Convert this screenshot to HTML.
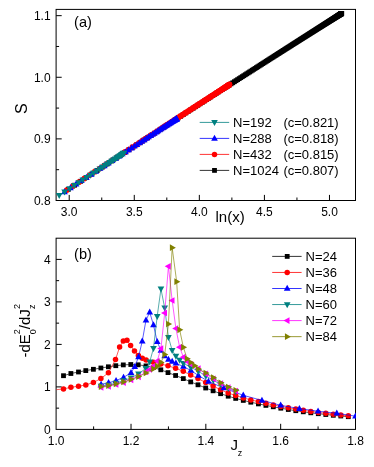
<!DOCTYPE html>
<html><head><meta charset="utf-8"><title>chart</title>
<style>html,body{margin:0;padding:0;background:#fff;}body{width:374px;height:467px;overflow:hidden;font-family:"Liberation Sans",sans-serif;}</style>
</head><body>
<svg width="374" height="467" viewBox="0 0 374 467" style="display:block">
<rect width="374" height="467" fill="#ffffff"/>
<rect x="56.1" y="9.4" width="299.4" height="191.1" fill="none" stroke="#000" stroke-width="1"/>
<rect x="56.1" y="238.2" width="299.4" height="191.2" fill="none" stroke="#000" stroke-width="1"/>
<line x1="69.21" y1="200.5" x2="69.21" y2="194.9" stroke="#000" stroke-width="1"/>
<line x1="134.28" y1="200.5" x2="134.28" y2="194.9" stroke="#000" stroke-width="1"/>
<line x1="199.34" y1="200.5" x2="199.34" y2="194.9" stroke="#000" stroke-width="1"/>
<line x1="264.41" y1="200.5" x2="264.41" y2="194.9" stroke="#000" stroke-width="1"/>
<line x1="329.47" y1="200.5" x2="329.47" y2="194.9" stroke="#000" stroke-width="1"/>
<line x1="101.75" y1="200.5" x2="101.75" y2="197.5" stroke="#000" stroke-width="1"/>
<line x1="166.81" y1="200.5" x2="166.81" y2="197.5" stroke="#000" stroke-width="1"/>
<line x1="231.88" y1="200.5" x2="231.88" y2="197.5" stroke="#000" stroke-width="1"/>
<line x1="296.94" y1="200.5" x2="296.94" y2="197.5" stroke="#000" stroke-width="1"/>
<line x1="56.1" y1="138.89" x2="61.7" y2="138.89" stroke="#000" stroke-width="1"/>
<line x1="56.1" y1="77.28" x2="61.7" y2="77.28" stroke="#000" stroke-width="1"/>
<line x1="56.1" y1="15.67" x2="61.7" y2="15.67" stroke="#000" stroke-width="1"/>
<line x1="56.1" y1="169.70" x2="59.1" y2="169.70" stroke="#000" stroke-width="1"/>
<line x1="56.1" y1="108.09" x2="59.1" y2="108.09" stroke="#000" stroke-width="1"/>
<line x1="56.1" y1="46.47" x2="59.1" y2="46.47" stroke="#000" stroke-width="1"/>
<line x1="131.02" y1="429.4" x2="131.02" y2="423.79999999999995" stroke="#000" stroke-width="1"/>
<line x1="205.84" y1="429.4" x2="205.84" y2="423.79999999999995" stroke="#000" stroke-width="1"/>
<line x1="280.66" y1="429.4" x2="280.66" y2="423.79999999999995" stroke="#000" stroke-width="1"/>
<line x1="93.61" y1="429.4" x2="93.61" y2="426.4" stroke="#000" stroke-width="1"/>
<line x1="168.43" y1="429.4" x2="168.43" y2="426.4" stroke="#000" stroke-width="1"/>
<line x1="243.25" y1="429.4" x2="243.25" y2="426.4" stroke="#000" stroke-width="1"/>
<line x1="318.07" y1="429.4" x2="318.07" y2="426.4" stroke="#000" stroke-width="1"/>
<line x1="56.1" y1="386.90" x2="61.7" y2="386.90" stroke="#000" stroke-width="1"/>
<line x1="56.1" y1="344.40" x2="61.7" y2="344.40" stroke="#000" stroke-width="1"/>
<line x1="56.1" y1="301.90" x2="61.7" y2="301.90" stroke="#000" stroke-width="1"/>
<line x1="56.1" y1="259.40" x2="61.7" y2="259.40" stroke="#000" stroke-width="1"/>
<line x1="56.1" y1="408.15" x2="59.1" y2="408.15" stroke="#000" stroke-width="1"/>
<line x1="56.1" y1="365.65" x2="59.1" y2="365.65" stroke="#000" stroke-width="1"/>
<line x1="56.1" y1="323.15" x2="59.1" y2="323.15" stroke="#000" stroke-width="1"/>
<line x1="56.1" y1="280.65" x2="59.1" y2="280.65" stroke="#000" stroke-width="1"/>
<path d="M68.33 189.33 L74.65 185.20 L80.66 181.26 L86.41 177.50 L91.91 173.91 L97.18 170.47 L102.25 167.17 L107.11 163.99 L111.80 160.94 L116.32 157.99 L120.69 155.15 L124.90 152.41 L128.98 149.76 L132.93 147.19 L136.76 144.70 L140.48 142.29 L144.09 139.95 L147.59 137.68 L151.00 135.47 L154.32 133.32 L157.55 131.22 L160.69 129.19 L163.76 127.20 L166.75 125.27 L169.67 123.38 L172.53 121.53 L175.31 119.73 L178.03 117.98 L180.70 116.26 L183.30 114.58 L185.85 112.93 L188.34 111.32 L190.78 109.75 L193.18 108.21 L195.52 106.70 L197.82 105.21 L200.07 103.76 L202.28 102.34 L204.45 100.94 L206.58 99.57 L208.67 98.23 L210.72 96.91 L212.73 95.62 L214.71 94.34 L216.66 93.09 L218.57 91.87 L220.45 90.66 L222.29 89.47 L224.11 88.31 L225.90 87.16 L227.65 86.03 L229.38 84.92 L231.08 83.83 L232.76 82.76 L234.41 81.70 L236.03 80.66 L237.63 79.63 L239.20 78.62 L240.76 77.63 L242.28 76.65 L243.79 75.69 L245.27 74.74 L246.73 73.80 L248.17 72.88 L249.59 71.97 L250.99 71.08 L252.37 70.20 L253.73 69.32 L255.07 68.47 L256.40 67.62 L257.70 66.79 L258.99 65.96 L260.26 65.15 L261.51 64.35 L262.75 63.56 L263.96 62.78 L265.17 62.02 L266.35 61.26 L267.53 60.51 L268.68 59.77 L269.82 59.04 L270.95 58.33 L272.06 57.62 L273.16 56.92 L274.24 56.22 L275.31 55.54 L276.37 54.87 L277.41 54.20 L278.44 53.55 L279.46 52.90 L280.46 52.26 L281.45 51.63 L282.43 51.00 L283.40 50.39 L284.35 49.78 L285.30 49.18 L286.23 48.59 L287.15 48.00 L288.06 47.42 L288.95 46.85 L289.84 46.29 L290.72 45.73 L291.58 45.18 L292.44 44.63 L293.28 44.10 L294.11 43.57 L294.94 43.04 L295.75 42.53 L296.55 42.02 L297.35 41.51 L298.13 41.01 L298.90 40.52 L299.67 40.03 L300.43 39.55 L301.17 39.08 L301.91 38.61 L302.64 38.15 L303.36 37.69 L304.07 37.24 L304.77 36.79 L305.46 36.35 L306.15 35.92 L306.82 35.49 L307.49 35.07 L308.15 34.65 L308.80 34.23 L309.44 33.83 L310.08 33.42 L310.71 33.02 L311.32 32.63 L311.94 32.24 L312.54 31.86 L313.14 31.48 L313.72 31.11 L314.30 30.74 L314.88 30.38 L315.44 30.02 L316.00 29.66 L316.55 29.31 L317.10 28.97 L317.64 28.63 L318.17 28.29 L318.69 27.96 L319.20 27.63 L319.71 27.31 L320.22 26.99 L320.71 26.68 L321.20 26.37 L321.68 26.06 L322.16 25.76 L322.63 25.46 L323.09 25.17 L323.54 24.88 L323.99 24.60 L324.44 24.32 L324.87 24.04 L325.30 23.77 L325.72 23.50 L326.14 23.23 L326.55 22.97 L326.96 22.72 L327.36 22.47 L327.75 22.22 L328.14 21.97 L328.52 21.73 L328.89 21.49 L329.26 21.26 L329.62 21.03 L329.98 20.80 L330.33 20.58 L330.68 20.36 L331.02 20.15 L331.35 19.94 L331.68 19.73 L332.00 19.53 L332.32 19.33 L332.63 19.13 L332.93 18.94 L333.23 18.75 L333.53 18.56 L333.81 18.38 L334.10 18.20 L334.37 18.02 L334.65 17.85 L334.91 17.68 L335.17 17.52 L335.43 17.36 L335.68 17.20 L335.92 17.04 L336.16 16.89 L336.40 16.74 L336.63 16.60 L336.85 16.46 L337.07 16.32 L337.28 16.18 L337.49 16.05 L337.69 15.92 L337.89 15.80 L338.08 15.68 L338.27 15.56 L338.45 15.44 L338.63 15.33 L338.80 15.22 L338.97 15.12 L339.13 15.02 L339.28 14.92 L339.44 14.82 L339.58 14.73 L339.72 14.64 L339.86 14.55 L339.99 14.47 L340.12 14.39 L340.24 14.31 L340.35 14.24 L340.46 14.17 L340.57 14.10 L340.67 14.04 L340.77 13.98 L340.86 13.92 L340.94 13.87 L341.02 13.82 L341.10 13.77 L341.17 13.72 L341.24 13.68 L341.30 13.64 L341.36 13.61 L341.41 13.57 L341.45 13.55 L341.50 13.52 L341.53 13.50 L341.56 13.48 L341.59 13.46 L341.61 13.44 L341.63 13.43 L341.64 13.43 L341.65 13.42 L341.65 13.42" fill="none" stroke="#000000" stroke-width="0.65"/>
<rect x="65.93" y="186.93" width="4.80" height="4.80" fill="#000000"/>
<rect x="72.25" y="182.80" width="4.80" height="4.80" fill="#000000"/>
<rect x="78.26" y="178.86" width="4.80" height="4.80" fill="#000000"/>
<rect x="84.01" y="175.10" width="4.80" height="4.80" fill="#000000"/>
<rect x="89.51" y="171.51" width="4.80" height="4.80" fill="#000000"/>
<rect x="94.78" y="168.07" width="4.80" height="4.80" fill="#000000"/>
<rect x="99.85" y="164.77" width="4.80" height="4.80" fill="#000000"/>
<rect x="104.71" y="161.59" width="4.80" height="4.80" fill="#000000"/>
<rect x="109.40" y="158.54" width="4.80" height="4.80" fill="#000000"/>
<rect x="113.92" y="155.59" width="4.80" height="4.80" fill="#000000"/>
<rect x="118.29" y="152.75" width="4.80" height="4.80" fill="#000000"/>
<rect x="122.50" y="150.01" width="4.80" height="4.80" fill="#000000"/>
<rect x="126.58" y="147.36" width="4.80" height="4.80" fill="#000000"/>
<rect x="130.53" y="144.79" width="4.80" height="4.80" fill="#000000"/>
<rect x="134.36" y="142.30" width="4.80" height="4.80" fill="#000000"/>
<rect x="138.08" y="139.89" width="4.80" height="4.80" fill="#000000"/>
<rect x="141.69" y="137.55" width="4.80" height="4.80" fill="#000000"/>
<rect x="145.19" y="135.28" width="4.80" height="4.80" fill="#000000"/>
<rect x="148.60" y="133.07" width="4.80" height="4.80" fill="#000000"/>
<rect x="151.92" y="130.92" width="4.80" height="4.80" fill="#000000"/>
<rect x="155.15" y="128.82" width="4.80" height="4.80" fill="#000000"/>
<rect x="158.29" y="126.79" width="4.80" height="4.80" fill="#000000"/>
<rect x="161.36" y="124.80" width="4.80" height="4.80" fill="#000000"/>
<rect x="164.35" y="122.87" width="4.80" height="4.80" fill="#000000"/>
<rect x="167.27" y="120.98" width="4.80" height="4.80" fill="#000000"/>
<rect x="170.13" y="119.13" width="4.80" height="4.80" fill="#000000"/>
<rect x="172.91" y="117.33" width="4.80" height="4.80" fill="#000000"/>
<rect x="175.63" y="115.58" width="4.80" height="4.80" fill="#000000"/>
<rect x="178.30" y="113.86" width="4.80" height="4.80" fill="#000000"/>
<rect x="180.90" y="112.18" width="4.80" height="4.80" fill="#000000"/>
<rect x="183.45" y="110.53" width="4.80" height="4.80" fill="#000000"/>
<rect x="185.94" y="108.92" width="4.80" height="4.80" fill="#000000"/>
<rect x="188.38" y="107.35" width="4.80" height="4.80" fill="#000000"/>
<rect x="190.78" y="105.81" width="4.80" height="4.80" fill="#000000"/>
<rect x="193.12" y="104.30" width="4.80" height="4.80" fill="#000000"/>
<rect x="195.42" y="102.81" width="4.80" height="4.80" fill="#000000"/>
<rect x="197.67" y="101.36" width="4.80" height="4.80" fill="#000000"/>
<rect x="199.88" y="99.94" width="4.80" height="4.80" fill="#000000"/>
<rect x="202.05" y="98.54" width="4.80" height="4.80" fill="#000000"/>
<rect x="204.18" y="97.17" width="4.80" height="4.80" fill="#000000"/>
<rect x="206.27" y="95.83" width="4.80" height="4.80" fill="#000000"/>
<rect x="208.32" y="94.51" width="4.80" height="4.80" fill="#000000"/>
<rect x="210.33" y="93.22" width="4.80" height="4.80" fill="#000000"/>
<rect x="212.31" y="91.94" width="4.80" height="4.80" fill="#000000"/>
<rect x="214.26" y="90.69" width="4.80" height="4.80" fill="#000000"/>
<rect x="216.17" y="89.47" width="4.80" height="4.80" fill="#000000"/>
<rect x="218.05" y="88.26" width="4.80" height="4.80" fill="#000000"/>
<rect x="219.89" y="87.07" width="4.80" height="4.80" fill="#000000"/>
<rect x="221.71" y="85.91" width="4.80" height="4.80" fill="#000000"/>
<rect x="223.50" y="84.76" width="4.80" height="4.80" fill="#000000"/>
<rect x="225.25" y="83.63" width="4.80" height="4.80" fill="#000000"/>
<rect x="226.98" y="82.52" width="4.80" height="4.80" fill="#000000"/>
<rect x="228.68" y="81.43" width="4.80" height="4.80" fill="#000000"/>
<rect x="230.36" y="80.36" width="4.80" height="4.80" fill="#000000"/>
<rect x="232.01" y="79.30" width="4.80" height="4.80" fill="#000000"/>
<rect x="233.63" y="78.26" width="4.80" height="4.80" fill="#000000"/>
<rect x="235.23" y="77.23" width="4.80" height="4.80" fill="#000000"/>
<rect x="236.80" y="76.22" width="4.80" height="4.80" fill="#000000"/>
<rect x="238.36" y="75.23" width="4.80" height="4.80" fill="#000000"/>
<rect x="239.88" y="74.25" width="4.80" height="4.80" fill="#000000"/>
<rect x="241.39" y="73.29" width="4.80" height="4.80" fill="#000000"/>
<rect x="242.87" y="72.34" width="4.80" height="4.80" fill="#000000"/>
<rect x="244.33" y="71.40" width="4.80" height="4.80" fill="#000000"/>
<rect x="245.77" y="70.48" width="4.80" height="4.80" fill="#000000"/>
<rect x="247.19" y="69.57" width="4.80" height="4.80" fill="#000000"/>
<rect x="248.59" y="68.68" width="4.80" height="4.80" fill="#000000"/>
<rect x="249.97" y="67.80" width="4.80" height="4.80" fill="#000000"/>
<rect x="251.33" y="66.92" width="4.80" height="4.80" fill="#000000"/>
<rect x="252.67" y="66.07" width="4.80" height="4.80" fill="#000000"/>
<rect x="254.00" y="65.22" width="4.80" height="4.80" fill="#000000"/>
<rect x="255.30" y="64.39" width="4.80" height="4.80" fill="#000000"/>
<rect x="256.59" y="63.56" width="4.80" height="4.80" fill="#000000"/>
<rect x="257.86" y="62.75" width="4.80" height="4.80" fill="#000000"/>
<rect x="259.11" y="61.95" width="4.80" height="4.80" fill="#000000"/>
<rect x="260.35" y="61.16" width="4.80" height="4.80" fill="#000000"/>
<rect x="261.56" y="60.38" width="4.80" height="4.80" fill="#000000"/>
<rect x="262.77" y="59.62" width="4.80" height="4.80" fill="#000000"/>
<rect x="263.95" y="58.86" width="4.80" height="4.80" fill="#000000"/>
<rect x="265.13" y="58.11" width="4.80" height="4.80" fill="#000000"/>
<rect x="266.28" y="57.37" width="4.80" height="4.80" fill="#000000"/>
<rect x="267.42" y="56.64" width="4.80" height="4.80" fill="#000000"/>
<rect x="268.55" y="55.93" width="4.80" height="4.80" fill="#000000"/>
<rect x="269.66" y="55.22" width="4.80" height="4.80" fill="#000000"/>
<rect x="270.76" y="54.52" width="4.80" height="4.80" fill="#000000"/>
<rect x="271.84" y="53.82" width="4.80" height="4.80" fill="#000000"/>
<rect x="272.91" y="53.14" width="4.80" height="4.80" fill="#000000"/>
<rect x="273.97" y="52.47" width="4.80" height="4.80" fill="#000000"/>
<rect x="275.01" y="51.80" width="4.80" height="4.80" fill="#000000"/>
<rect x="276.04" y="51.15" width="4.80" height="4.80" fill="#000000"/>
<rect x="277.06" y="50.50" width="4.80" height="4.80" fill="#000000"/>
<rect x="278.06" y="49.86" width="4.80" height="4.80" fill="#000000"/>
<rect x="279.05" y="49.23" width="4.80" height="4.80" fill="#000000"/>
<rect x="280.03" y="48.60" width="4.80" height="4.80" fill="#000000"/>
<rect x="281.00" y="47.99" width="4.80" height="4.80" fill="#000000"/>
<rect x="281.95" y="47.38" width="4.80" height="4.80" fill="#000000"/>
<rect x="282.90" y="46.78" width="4.80" height="4.80" fill="#000000"/>
<rect x="283.83" y="46.19" width="4.80" height="4.80" fill="#000000"/>
<rect x="284.75" y="45.60" width="4.80" height="4.80" fill="#000000"/>
<rect x="285.66" y="45.02" width="4.80" height="4.80" fill="#000000"/>
<rect x="286.55" y="44.45" width="4.80" height="4.80" fill="#000000"/>
<rect x="287.44" y="43.89" width="4.80" height="4.80" fill="#000000"/>
<rect x="288.32" y="43.33" width="4.80" height="4.80" fill="#000000"/>
<rect x="289.18" y="42.78" width="4.80" height="4.80" fill="#000000"/>
<rect x="290.04" y="42.23" width="4.80" height="4.80" fill="#000000"/>
<rect x="290.88" y="41.70" width="4.80" height="4.80" fill="#000000"/>
<rect x="291.71" y="41.17" width="4.80" height="4.80" fill="#000000"/>
<rect x="292.54" y="40.64" width="4.80" height="4.80" fill="#000000"/>
<rect x="293.35" y="40.13" width="4.80" height="4.80" fill="#000000"/>
<rect x="294.15" y="39.62" width="4.80" height="4.80" fill="#000000"/>
<rect x="294.95" y="39.11" width="4.80" height="4.80" fill="#000000"/>
<rect x="295.73" y="38.61" width="4.80" height="4.80" fill="#000000"/>
<rect x="296.50" y="38.12" width="4.80" height="4.80" fill="#000000"/>
<rect x="297.27" y="37.63" width="4.80" height="4.80" fill="#000000"/>
<rect x="298.03" y="37.15" width="4.80" height="4.80" fill="#000000"/>
<rect x="298.77" y="36.68" width="4.80" height="4.80" fill="#000000"/>
<rect x="299.51" y="36.21" width="4.80" height="4.80" fill="#000000"/>
<rect x="300.24" y="35.75" width="4.80" height="4.80" fill="#000000"/>
<rect x="300.96" y="35.29" width="4.80" height="4.80" fill="#000000"/>
<rect x="301.67" y="34.84" width="4.80" height="4.80" fill="#000000"/>
<rect x="302.37" y="34.39" width="4.80" height="4.80" fill="#000000"/>
<rect x="303.06" y="33.95" width="4.80" height="4.80" fill="#000000"/>
<rect x="303.75" y="33.52" width="4.80" height="4.80" fill="#000000"/>
<rect x="304.42" y="33.09" width="4.80" height="4.80" fill="#000000"/>
<rect x="305.09" y="32.67" width="4.80" height="4.80" fill="#000000"/>
<rect x="305.75" y="32.25" width="4.80" height="4.80" fill="#000000"/>
<rect x="306.40" y="31.83" width="4.80" height="4.80" fill="#000000"/>
<rect x="307.04" y="31.43" width="4.80" height="4.80" fill="#000000"/>
<rect x="307.68" y="31.02" width="4.80" height="4.80" fill="#000000"/>
<rect x="308.31" y="30.62" width="4.80" height="4.80" fill="#000000"/>
<rect x="308.92" y="30.23" width="4.80" height="4.80" fill="#000000"/>
<rect x="309.54" y="29.84" width="4.80" height="4.80" fill="#000000"/>
<rect x="310.14" y="29.46" width="4.80" height="4.80" fill="#000000"/>
<rect x="310.74" y="29.08" width="4.80" height="4.80" fill="#000000"/>
<rect x="311.32" y="28.71" width="4.80" height="4.80" fill="#000000"/>
<rect x="311.90" y="28.34" width="4.80" height="4.80" fill="#000000"/>
<rect x="312.48" y="27.98" width="4.80" height="4.80" fill="#000000"/>
<rect x="313.04" y="27.62" width="4.80" height="4.80" fill="#000000"/>
<rect x="313.60" y="27.26" width="4.80" height="4.80" fill="#000000"/>
<rect x="314.15" y="26.91" width="4.80" height="4.80" fill="#000000"/>
<rect x="314.70" y="26.57" width="4.80" height="4.80" fill="#000000"/>
<rect x="315.24" y="26.23" width="4.80" height="4.80" fill="#000000"/>
<rect x="315.77" y="25.89" width="4.80" height="4.80" fill="#000000"/>
<rect x="316.29" y="25.56" width="4.80" height="4.80" fill="#000000"/>
<rect x="316.80" y="25.23" width="4.80" height="4.80" fill="#000000"/>
<rect x="317.31" y="24.91" width="4.80" height="4.80" fill="#000000"/>
<rect x="317.82" y="24.59" width="4.80" height="4.80" fill="#000000"/>
<rect x="318.31" y="24.28" width="4.80" height="4.80" fill="#000000"/>
<rect x="318.80" y="23.97" width="4.80" height="4.80" fill="#000000"/>
<rect x="319.28" y="23.66" width="4.80" height="4.80" fill="#000000"/>
<rect x="319.76" y="23.36" width="4.80" height="4.80" fill="#000000"/>
<rect x="320.23" y="23.06" width="4.80" height="4.80" fill="#000000"/>
<rect x="320.69" y="22.77" width="4.80" height="4.80" fill="#000000"/>
<rect x="321.14" y="22.48" width="4.80" height="4.80" fill="#000000"/>
<rect x="321.59" y="22.20" width="4.80" height="4.80" fill="#000000"/>
<rect x="322.04" y="21.92" width="4.80" height="4.80" fill="#000000"/>
<rect x="322.47" y="21.64" width="4.80" height="4.80" fill="#000000"/>
<rect x="322.90" y="21.37" width="4.80" height="4.80" fill="#000000"/>
<rect x="323.32" y="21.10" width="4.80" height="4.80" fill="#000000"/>
<rect x="323.74" y="20.83" width="4.80" height="4.80" fill="#000000"/>
<rect x="324.15" y="20.57" width="4.80" height="4.80" fill="#000000"/>
<rect x="324.56" y="20.32" width="4.80" height="4.80" fill="#000000"/>
<rect x="324.96" y="20.07" width="4.80" height="4.80" fill="#000000"/>
<rect x="325.35" y="19.82" width="4.80" height="4.80" fill="#000000"/>
<rect x="325.74" y="19.57" width="4.80" height="4.80" fill="#000000"/>
<rect x="326.12" y="19.33" width="4.80" height="4.80" fill="#000000"/>
<rect x="326.49" y="19.09" width="4.80" height="4.80" fill="#000000"/>
<rect x="326.86" y="18.86" width="4.80" height="4.80" fill="#000000"/>
<rect x="327.22" y="18.63" width="4.80" height="4.80" fill="#000000"/>
<rect x="327.58" y="18.40" width="4.80" height="4.80" fill="#000000"/>
<rect x="327.93" y="18.18" width="4.80" height="4.80" fill="#000000"/>
<rect x="328.28" y="17.96" width="4.80" height="4.80" fill="#000000"/>
<rect x="328.62" y="17.75" width="4.80" height="4.80" fill="#000000"/>
<rect x="328.95" y="17.54" width="4.80" height="4.80" fill="#000000"/>
<rect x="329.28" y="17.33" width="4.80" height="4.80" fill="#000000"/>
<rect x="329.60" y="17.13" width="4.80" height="4.80" fill="#000000"/>
<rect x="329.92" y="16.93" width="4.80" height="4.80" fill="#000000"/>
<rect x="330.23" y="16.73" width="4.80" height="4.80" fill="#000000"/>
<rect x="330.53" y="16.54" width="4.80" height="4.80" fill="#000000"/>
<rect x="330.83" y="16.35" width="4.80" height="4.80" fill="#000000"/>
<rect x="331.13" y="16.16" width="4.80" height="4.80" fill="#000000"/>
<rect x="331.41" y="15.98" width="4.80" height="4.80" fill="#000000"/>
<rect x="331.70" y="15.80" width="4.80" height="4.80" fill="#000000"/>
<rect x="331.97" y="15.62" width="4.80" height="4.80" fill="#000000"/>
<rect x="332.25" y="15.45" width="4.80" height="4.80" fill="#000000"/>
<rect x="332.51" y="15.28" width="4.80" height="4.80" fill="#000000"/>
<rect x="332.77" y="15.12" width="4.80" height="4.80" fill="#000000"/>
<rect x="333.03" y="14.96" width="4.80" height="4.80" fill="#000000"/>
<rect x="333.28" y="14.80" width="4.80" height="4.80" fill="#000000"/>
<rect x="333.52" y="14.64" width="4.80" height="4.80" fill="#000000"/>
<rect x="333.76" y="14.49" width="4.80" height="4.80" fill="#000000"/>
<rect x="334.00" y="14.34" width="4.80" height="4.80" fill="#000000"/>
<rect x="334.23" y="14.20" width="4.80" height="4.80" fill="#000000"/>
<rect x="334.45" y="14.06" width="4.80" height="4.80" fill="#000000"/>
<rect x="334.67" y="13.92" width="4.80" height="4.80" fill="#000000"/>
<rect x="334.88" y="13.78" width="4.80" height="4.80" fill="#000000"/>
<rect x="335.09" y="13.65" width="4.80" height="4.80" fill="#000000"/>
<rect x="335.29" y="13.52" width="4.80" height="4.80" fill="#000000"/>
<rect x="335.49" y="13.40" width="4.80" height="4.80" fill="#000000"/>
<rect x="335.68" y="13.28" width="4.80" height="4.80" fill="#000000"/>
<rect x="335.87" y="13.16" width="4.80" height="4.80" fill="#000000"/>
<rect x="336.05" y="13.04" width="4.80" height="4.80" fill="#000000"/>
<rect x="336.23" y="12.93" width="4.80" height="4.80" fill="#000000"/>
<rect x="336.40" y="12.82" width="4.80" height="4.80" fill="#000000"/>
<rect x="336.57" y="12.72" width="4.80" height="4.80" fill="#000000"/>
<rect x="336.73" y="12.62" width="4.80" height="4.80" fill="#000000"/>
<rect x="336.88" y="12.52" width="4.80" height="4.80" fill="#000000"/>
<rect x="337.04" y="12.42" width="4.80" height="4.80" fill="#000000"/>
<rect x="337.18" y="12.33" width="4.80" height="4.80" fill="#000000"/>
<rect x="337.32" y="12.24" width="4.80" height="4.80" fill="#000000"/>
<rect x="337.46" y="12.15" width="4.80" height="4.80" fill="#000000"/>
<rect x="337.59" y="12.07" width="4.80" height="4.80" fill="#000000"/>
<rect x="337.72" y="11.99" width="4.80" height="4.80" fill="#000000"/>
<rect x="337.84" y="11.91" width="4.80" height="4.80" fill="#000000"/>
<rect x="337.95" y="11.84" width="4.80" height="4.80" fill="#000000"/>
<rect x="338.06" y="11.77" width="4.80" height="4.80" fill="#000000"/>
<rect x="338.17" y="11.70" width="4.80" height="4.80" fill="#000000"/>
<rect x="338.27" y="11.64" width="4.80" height="4.80" fill="#000000"/>
<rect x="338.37" y="11.58" width="4.80" height="4.80" fill="#000000"/>
<rect x="338.46" y="11.52" width="4.80" height="4.80" fill="#000000"/>
<rect x="338.54" y="11.47" width="4.80" height="4.80" fill="#000000"/>
<rect x="338.62" y="11.42" width="4.80" height="4.80" fill="#000000"/>
<rect x="338.70" y="11.37" width="4.80" height="4.80" fill="#000000"/>
<rect x="338.77" y="11.32" width="4.80" height="4.80" fill="#000000"/>
<rect x="338.84" y="11.28" width="4.80" height="4.80" fill="#000000"/>
<rect x="338.90" y="11.24" width="4.80" height="4.80" fill="#000000"/>
<rect x="338.96" y="11.21" width="4.80" height="4.80" fill="#000000"/>
<rect x="339.01" y="11.17" width="4.80" height="4.80" fill="#000000"/>
<rect x="339.05" y="11.15" width="4.80" height="4.80" fill="#000000"/>
<rect x="339.10" y="11.12" width="4.80" height="4.80" fill="#000000"/>
<rect x="339.13" y="11.10" width="4.80" height="4.80" fill="#000000"/>
<rect x="339.16" y="11.08" width="4.80" height="4.80" fill="#000000"/>
<rect x="339.19" y="11.06" width="4.80" height="4.80" fill="#000000"/>
<rect x="339.21" y="11.04" width="4.80" height="4.80" fill="#000000"/>
<rect x="339.23" y="11.03" width="4.80" height="4.80" fill="#000000"/>
<rect x="339.24" y="11.03" width="4.80" height="4.80" fill="#000000"/>
<rect x="339.25" y="11.02" width="4.80" height="4.80" fill="#000000"/>
<rect x="339.25" y="11.02" width="4.80" height="4.80" fill="#000000"/>
<path d="M66.82 190.03 L72.98 185.99 L78.83 182.16 L84.41 178.51 L89.73 175.04 L94.82 171.71 L99.68 168.54 L104.35 165.49 L108.83 162.58 L113.13 159.77 L117.27 157.08 L121.25 154.49 L125.09 151.99 L128.79 149.58 L132.36 147.26 L135.81 145.02 L139.15 142.86 L142.37 140.76 L145.49 138.74 L148.51 136.78 L151.43 134.89 L154.26 133.05 L157.01 131.27 L159.67 129.55 L162.25 127.88 L164.76 126.26 L167.19 124.69 L169.55 123.16 L171.83 121.68 L174.06 120.25 L176.22 118.85 L178.31 117.50 L180.35 116.18 L182.32 114.91 L184.24 113.67 L186.11 112.46 L187.92 111.29 L189.68 110.16 L191.39 109.06 L193.05 107.99 L194.66 106.95 L196.23 105.94 L197.75 104.96 L199.22 104.01 L200.65 103.09 L202.04 102.20 L203.39 101.33 L204.69 100.49 L205.95 99.68 L207.18 98.89 L208.37 98.12 L209.52 97.38 L210.63 96.67 L211.70 95.98 L212.74 95.31 L213.74 94.67 L214.71 94.04 L215.64 93.44 L216.54 92.87 L217.41 92.31 L218.24 91.77 L219.04 91.26 L219.81 90.77 L220.55 90.29 L221.25 89.84 L221.92 89.41 L222.57 89.00 L223.18 88.60 L223.76 88.23 L224.31 87.88 L224.83 87.54 L225.33 87.23 L225.79 86.93 L226.22 86.65 L226.63 86.39 L227.00 86.15 L227.35 85.92 L227.67 85.72 L227.96 85.53 L228.23 85.36 L228.46 85.21 L228.67 85.08 L228.85 84.96 L229.00 84.87 L229.12 84.79 L229.22 84.73 L229.29 84.68 L229.33 84.66 L229.34 84.65" fill="none" stroke="#ff0000" stroke-width="0.65"/>
<circle cx="66.82" cy="190.03" r="2.89" fill="#ff0000"/>
<circle cx="72.98" cy="185.99" r="2.89" fill="#ff0000"/>
<circle cx="78.83" cy="182.16" r="2.89" fill="#ff0000"/>
<circle cx="84.41" cy="178.51" r="2.89" fill="#ff0000"/>
<circle cx="89.73" cy="175.04" r="2.89" fill="#ff0000"/>
<circle cx="94.82" cy="171.71" r="2.89" fill="#ff0000"/>
<circle cx="99.68" cy="168.54" r="2.89" fill="#ff0000"/>
<circle cx="104.35" cy="165.49" r="2.89" fill="#ff0000"/>
<circle cx="108.83" cy="162.58" r="2.89" fill="#ff0000"/>
<circle cx="113.13" cy="159.77" r="2.89" fill="#ff0000"/>
<circle cx="117.27" cy="157.08" r="2.89" fill="#ff0000"/>
<circle cx="121.25" cy="154.49" r="2.89" fill="#ff0000"/>
<circle cx="125.09" cy="151.99" r="2.89" fill="#ff0000"/>
<circle cx="128.79" cy="149.58" r="2.89" fill="#ff0000"/>
<circle cx="132.36" cy="147.26" r="2.89" fill="#ff0000"/>
<circle cx="135.81" cy="145.02" r="2.89" fill="#ff0000"/>
<circle cx="139.15" cy="142.86" r="2.89" fill="#ff0000"/>
<circle cx="142.37" cy="140.76" r="2.89" fill="#ff0000"/>
<circle cx="145.49" cy="138.74" r="2.89" fill="#ff0000"/>
<circle cx="148.51" cy="136.78" r="2.89" fill="#ff0000"/>
<circle cx="151.43" cy="134.89" r="2.89" fill="#ff0000"/>
<circle cx="154.26" cy="133.05" r="2.89" fill="#ff0000"/>
<circle cx="157.01" cy="131.27" r="2.89" fill="#ff0000"/>
<circle cx="159.67" cy="129.55" r="2.89" fill="#ff0000"/>
<circle cx="162.25" cy="127.88" r="2.89" fill="#ff0000"/>
<circle cx="164.76" cy="126.26" r="2.89" fill="#ff0000"/>
<circle cx="167.19" cy="124.69" r="2.89" fill="#ff0000"/>
<circle cx="169.55" cy="123.16" r="2.89" fill="#ff0000"/>
<circle cx="171.83" cy="121.68" r="2.89" fill="#ff0000"/>
<circle cx="174.06" cy="120.25" r="2.89" fill="#ff0000"/>
<circle cx="176.22" cy="118.85" r="2.89" fill="#ff0000"/>
<circle cx="178.31" cy="117.50" r="2.89" fill="#ff0000"/>
<circle cx="180.35" cy="116.18" r="2.89" fill="#ff0000"/>
<circle cx="182.32" cy="114.91" r="2.89" fill="#ff0000"/>
<circle cx="184.24" cy="113.67" r="2.89" fill="#ff0000"/>
<circle cx="186.11" cy="112.46" r="2.89" fill="#ff0000"/>
<circle cx="187.92" cy="111.29" r="2.89" fill="#ff0000"/>
<circle cx="189.68" cy="110.16" r="2.89" fill="#ff0000"/>
<circle cx="191.39" cy="109.06" r="2.89" fill="#ff0000"/>
<circle cx="193.05" cy="107.99" r="2.89" fill="#ff0000"/>
<circle cx="194.66" cy="106.95" r="2.89" fill="#ff0000"/>
<circle cx="196.23" cy="105.94" r="2.89" fill="#ff0000"/>
<circle cx="197.75" cy="104.96" r="2.89" fill="#ff0000"/>
<circle cx="199.22" cy="104.01" r="2.89" fill="#ff0000"/>
<circle cx="200.65" cy="103.09" r="2.89" fill="#ff0000"/>
<circle cx="202.04" cy="102.20" r="2.89" fill="#ff0000"/>
<circle cx="203.39" cy="101.33" r="2.89" fill="#ff0000"/>
<circle cx="204.69" cy="100.49" r="2.89" fill="#ff0000"/>
<circle cx="205.95" cy="99.68" r="2.89" fill="#ff0000"/>
<circle cx="207.18" cy="98.89" r="2.89" fill="#ff0000"/>
<circle cx="208.37" cy="98.12" r="2.89" fill="#ff0000"/>
<circle cx="209.52" cy="97.38" r="2.89" fill="#ff0000"/>
<circle cx="210.63" cy="96.67" r="2.89" fill="#ff0000"/>
<circle cx="211.70" cy="95.98" r="2.89" fill="#ff0000"/>
<circle cx="212.74" cy="95.31" r="2.89" fill="#ff0000"/>
<circle cx="213.74" cy="94.67" r="2.89" fill="#ff0000"/>
<circle cx="214.71" cy="94.04" r="2.89" fill="#ff0000"/>
<circle cx="215.64" cy="93.44" r="2.89" fill="#ff0000"/>
<circle cx="216.54" cy="92.87" r="2.89" fill="#ff0000"/>
<circle cx="217.41" cy="92.31" r="2.89" fill="#ff0000"/>
<circle cx="218.24" cy="91.77" r="2.89" fill="#ff0000"/>
<circle cx="219.04" cy="91.26" r="2.89" fill="#ff0000"/>
<circle cx="219.81" cy="90.77" r="2.89" fill="#ff0000"/>
<circle cx="220.55" cy="90.29" r="2.89" fill="#ff0000"/>
<circle cx="221.25" cy="89.84" r="2.89" fill="#ff0000"/>
<circle cx="221.92" cy="89.41" r="2.89" fill="#ff0000"/>
<circle cx="222.57" cy="89.00" r="2.89" fill="#ff0000"/>
<circle cx="223.18" cy="88.60" r="2.89" fill="#ff0000"/>
<circle cx="223.76" cy="88.23" r="2.89" fill="#ff0000"/>
<circle cx="224.31" cy="87.88" r="2.89" fill="#ff0000"/>
<circle cx="224.83" cy="87.54" r="2.89" fill="#ff0000"/>
<circle cx="225.33" cy="87.23" r="2.89" fill="#ff0000"/>
<circle cx="225.79" cy="86.93" r="2.89" fill="#ff0000"/>
<circle cx="226.22" cy="86.65" r="2.89" fill="#ff0000"/>
<circle cx="226.63" cy="86.39" r="2.89" fill="#ff0000"/>
<circle cx="227.00" cy="86.15" r="2.89" fill="#ff0000"/>
<circle cx="227.35" cy="85.92" r="2.89" fill="#ff0000"/>
<circle cx="227.67" cy="85.72" r="2.89" fill="#ff0000"/>
<circle cx="227.96" cy="85.53" r="2.89" fill="#ff0000"/>
<circle cx="228.23" cy="85.36" r="2.89" fill="#ff0000"/>
<circle cx="228.46" cy="85.21" r="2.89" fill="#ff0000"/>
<circle cx="228.67" cy="85.08" r="2.89" fill="#ff0000"/>
<circle cx="228.85" cy="84.96" r="2.89" fill="#ff0000"/>
<circle cx="229.00" cy="84.87" r="2.89" fill="#ff0000"/>
<circle cx="229.12" cy="84.79" r="2.89" fill="#ff0000"/>
<circle cx="229.22" cy="84.73" r="2.89" fill="#ff0000"/>
<circle cx="229.29" cy="84.68" r="2.89" fill="#ff0000"/>
<circle cx="229.33" cy="84.66" r="2.89" fill="#ff0000"/>
<circle cx="229.34" cy="84.65" r="2.89" fill="#ff0000"/>
<path d="M64.50 191.84 L70.42 187.96 L76.03 184.30 L81.34 180.82 L86.38 177.52 L91.18 174.39 L95.74 171.41 L100.10 168.57 L104.25 165.86 L108.21 163.28 L111.99 160.81 L115.61 158.46 L119.07 156.20 L122.38 154.05 L125.55 151.99 L128.58 150.02 L131.48 148.13 L134.26 146.33 L136.92 144.60 L139.46 142.95 L141.90 141.37 L144.23 139.86 L146.46 138.41 L148.59 137.03 L150.62 135.71 L152.56 134.45 L154.42 133.25 L156.18 132.11 L157.86 131.02 L159.46 129.99 L160.98 129.00 L162.42 128.07 L163.78 127.19 L165.07 126.36 L166.28 125.57 L167.42 124.84 L168.49 124.15 L169.49 123.50 L170.41 122.90 L171.28 122.34 L172.07 121.83 L172.80 121.36 L173.46 120.93 L174.06 120.55 L174.59 120.20 L175.06 119.90 L175.46 119.64 L175.81 119.42 L176.08 119.23 L176.30 119.09 L176.46 118.99 L176.55 118.93 L176.58 118.91" fill="none" stroke="#0000ff" stroke-width="0.65"/>
<polygon points="64.50,188.14 61.17,194.14 67.83,194.14" fill="#0000ff"/>
<polygon points="70.42,184.26 67.09,190.26 73.75,190.26" fill="#0000ff"/>
<polygon points="76.03,180.60 72.70,186.59 79.36,186.59" fill="#0000ff"/>
<polygon points="81.34,177.12 78.01,183.11 84.67,183.11" fill="#0000ff"/>
<polygon points="86.38,173.82 83.05,179.82 89.71,179.82" fill="#0000ff"/>
<polygon points="91.18,170.69 87.85,176.68 94.51,176.68" fill="#0000ff"/>
<polygon points="95.74,167.71 92.41,173.70 99.07,173.70" fill="#0000ff"/>
<polygon points="100.10,164.87 96.77,170.86 103.43,170.86" fill="#0000ff"/>
<polygon points="104.25,162.16 100.92,168.15 107.58,168.15" fill="#0000ff"/>
<polygon points="108.21,159.58 104.88,165.57 111.54,165.57" fill="#0000ff"/>
<polygon points="111.99,157.11 108.66,163.11 115.32,163.11" fill="#0000ff"/>
<polygon points="115.61,154.76 112.28,160.75 118.94,160.75" fill="#0000ff"/>
<polygon points="119.07,152.50 115.74,158.50 122.40,158.50" fill="#0000ff"/>
<polygon points="122.38,150.35 119.05,156.34 125.71,156.34" fill="#0000ff"/>
<polygon points="125.55,148.29 122.22,154.28 128.88,154.28" fill="#0000ff"/>
<polygon points="128.58,146.32 125.25,152.31 131.91,152.31" fill="#0000ff"/>
<polygon points="131.48,144.43 128.15,150.43 134.81,150.43" fill="#0000ff"/>
<polygon points="134.26,142.63 130.93,148.62 137.59,148.62" fill="#0000ff"/>
<polygon points="136.92,140.90 133.59,146.90 140.25,146.90" fill="#0000ff"/>
<polygon points="139.46,139.25 136.13,145.24 142.79,145.24" fill="#0000ff"/>
<polygon points="141.90,137.67 138.57,143.66 145.23,143.66" fill="#0000ff"/>
<polygon points="144.23,136.16 140.90,142.15 147.56,142.15" fill="#0000ff"/>
<polygon points="146.46,134.71 143.13,140.71 149.79,140.71" fill="#0000ff"/>
<polygon points="148.59,133.33 145.26,139.32 151.92,139.32" fill="#0000ff"/>
<polygon points="150.62,132.01 147.29,138.01 153.95,138.01" fill="#0000ff"/>
<polygon points="152.56,130.75 149.23,136.75 155.89,136.75" fill="#0000ff"/>
<polygon points="154.42,129.55 151.09,135.55 157.75,135.55" fill="#0000ff"/>
<polygon points="156.18,128.41 152.85,134.40 159.51,134.40" fill="#0000ff"/>
<polygon points="157.86,127.32 154.53,133.31 161.19,133.31" fill="#0000ff"/>
<polygon points="159.46,126.29 156.13,132.28 162.79,132.28" fill="#0000ff"/>
<polygon points="160.98,125.30 157.65,131.30 164.31,131.30" fill="#0000ff"/>
<polygon points="162.42,124.37 159.09,130.37 165.75,130.37" fill="#0000ff"/>
<polygon points="163.78,123.49 160.45,129.49 167.11,129.49" fill="#0000ff"/>
<polygon points="165.07,122.66 161.74,128.65 168.40,128.65" fill="#0000ff"/>
<polygon points="166.28,121.87 162.95,127.87 169.61,127.87" fill="#0000ff"/>
<polygon points="167.42,121.14 164.09,127.13 170.75,127.13" fill="#0000ff"/>
<polygon points="168.49,120.45 165.16,126.44 171.82,126.44" fill="#0000ff"/>
<polygon points="169.49,119.80 166.16,125.79 172.82,125.79" fill="#0000ff"/>
<polygon points="170.41,119.20 167.08,125.19 173.74,125.19" fill="#0000ff"/>
<polygon points="171.28,118.64 167.95,124.64 174.61,124.64" fill="#0000ff"/>
<polygon points="172.07,118.13 168.74,124.12 175.40,124.12" fill="#0000ff"/>
<polygon points="172.80,117.66 169.47,123.65 176.13,123.65" fill="#0000ff"/>
<polygon points="173.46,117.23 170.13,123.23 176.79,123.23" fill="#0000ff"/>
<polygon points="174.06,116.85 170.73,122.84 177.39,122.84" fill="#0000ff"/>
<polygon points="174.59,116.50 171.26,122.50 177.92,122.50" fill="#0000ff"/>
<polygon points="175.06,116.20 171.73,122.19 178.39,122.19" fill="#0000ff"/>
<polygon points="175.46,115.94 172.13,121.93 178.79,121.93" fill="#0000ff"/>
<polygon points="175.81,115.72 172.48,121.71 179.14,121.71" fill="#0000ff"/>
<polygon points="176.08,115.53 172.75,121.53 179.41,121.53" fill="#0000ff"/>
<polygon points="176.30,115.39 172.97,121.39 179.63,121.39" fill="#0000ff"/>
<polygon points="176.46,115.29 173.13,121.29 179.79,121.29" fill="#0000ff"/>
<polygon points="176.55,115.23 173.22,121.23 179.88,121.23" fill="#0000ff"/>
<polygon points="176.58,115.21 173.25,121.21 179.91,121.21" fill="#0000ff"/>
<path d="M59.23 195.30 L64.60 191.78 L69.62 188.49 L74.32 185.41 L78.72 182.53 L82.84 179.84 L86.70 177.31 L90.31 174.95 L93.69 172.75 L96.85 170.68 L99.80 168.76 L102.55 166.97 L105.10 165.30 L107.47 163.76 L109.65 162.34 L111.67 161.02 L113.52 159.82 L115.20 158.73 L116.72 157.73 L118.09 156.84 L119.31 156.05 L120.37 155.36 L121.29 154.76 L122.07 154.25 L122.70 153.84 L123.19 153.52 L123.54 153.30 L123.75 153.16 L123.82 153.12" fill="none" stroke="#008080" stroke-width="0.65"/>
<polygon points="59.23,199.00 55.90,193.00 62.56,193.00" fill="#008080"/>
<polygon points="64.60,195.48 61.27,189.49 67.93,189.49" fill="#008080"/>
<polygon points="69.62,192.19 66.29,186.20 72.95,186.20" fill="#008080"/>
<polygon points="74.32,189.11 70.99,183.12 77.65,183.12" fill="#008080"/>
<polygon points="78.72,186.23 75.39,180.24 82.05,180.24" fill="#008080"/>
<polygon points="82.84,183.54 79.51,177.54 86.17,177.54" fill="#008080"/>
<polygon points="86.70,181.01 83.37,175.02 90.03,175.02" fill="#008080"/>
<polygon points="90.31,178.65 86.98,172.66 93.64,172.66" fill="#008080"/>
<polygon points="93.69,176.45 90.36,170.45 97.02,170.45" fill="#008080"/>
<polygon points="96.85,174.38 93.52,168.39 100.18,168.39" fill="#008080"/>
<polygon points="99.80,172.46 96.47,166.47 103.13,166.47" fill="#008080"/>
<polygon points="102.55,170.67 99.22,164.68 105.88,164.68" fill="#008080"/>
<polygon points="105.10,169.00 101.77,163.01 108.43,163.01" fill="#008080"/>
<polygon points="107.47,167.46 104.14,161.47 110.80,161.47" fill="#008080"/>
<polygon points="109.65,166.04 106.32,160.04 112.98,160.04" fill="#008080"/>
<polygon points="111.67,164.72 108.34,158.73 115.00,158.73" fill="#008080"/>
<polygon points="113.52,163.52 110.19,157.53 116.85,157.53" fill="#008080"/>
<polygon points="115.20,162.43 111.87,156.43 118.53,156.43" fill="#008080"/>
<polygon points="116.72,161.43 113.39,155.44 120.05,155.44" fill="#008080"/>
<polygon points="118.09,160.54 114.76,154.55 121.42,154.55" fill="#008080"/>
<polygon points="119.31,159.75 115.98,153.76 122.64,153.76" fill="#008080"/>
<polygon points="120.37,159.06 117.04,153.06 123.70,153.06" fill="#008080"/>
<polygon points="121.29,158.46 117.96,152.46 124.62,152.46" fill="#008080"/>
<polygon points="122.07,157.95 118.74,151.96 125.40,151.96" fill="#008080"/>
<polygon points="122.70,157.54 119.37,151.55 126.03,151.55" fill="#008080"/>
<polygon points="123.19,157.22 119.86,151.23 126.52,151.23" fill="#008080"/>
<polygon points="123.54,157.00 120.21,151.00 126.87,151.00" fill="#008080"/>
<polygon points="123.75,156.86 120.42,150.87 127.08,150.87" fill="#008080"/>
<polygon points="123.82,156.82 120.49,150.82 127.15,150.82" fill="#008080"/>
<clipPath id="cb"><rect x="56.1" y="238.2" width="299.9" height="191.2"/></clipPath>
<g clip-path="url(#cb)">
<path d="M63.50 375.70 L70.90 373.50 L78.50 372.00 L85.80 370.60 L93.40 369.30 L100.90 368.00 L108.40 366.80 L115.80 365.70 L123.30 364.90 L130.80 364.50 L138.20 364.80 L146.00 365.90 L153.40 367.60 L160.80 369.80 L168.00 372.60 L175.60 375.50 L183.30 378.60 L190.70 381.90 L198.00 384.80 L205.70 388.00 L213.10 390.80 L220.60 393.70 L228.20 396.20 L235.70 398.40 L243.30 400.40 L250.80 402.20 L258.40 403.90 L265.90 405.40 L273.30 406.80 L280.80 408.20 L288.30 409.50 L295.80 410.70 L303.30 411.80 L310.80 412.80 L318.30 413.70 L325.80 414.50 L333.30 415.30 L340.80 416.00 L348.30 416.70" fill="none" stroke="#000000" stroke-width="0.65"/>
<rect x="61.10" y="373.30" width="4.80" height="4.80" fill="#000000"/>
<rect x="68.50" y="371.10" width="4.80" height="4.80" fill="#000000"/>
<rect x="76.10" y="369.60" width="4.80" height="4.80" fill="#000000"/>
<rect x="83.40" y="368.20" width="4.80" height="4.80" fill="#000000"/>
<rect x="91.00" y="366.90" width="4.80" height="4.80" fill="#000000"/>
<rect x="98.50" y="365.60" width="4.80" height="4.80" fill="#000000"/>
<rect x="106.00" y="364.40" width="4.80" height="4.80" fill="#000000"/>
<rect x="113.40" y="363.30" width="4.80" height="4.80" fill="#000000"/>
<rect x="120.90" y="362.50" width="4.80" height="4.80" fill="#000000"/>
<rect x="128.40" y="362.10" width="4.80" height="4.80" fill="#000000"/>
<rect x="135.80" y="362.40" width="4.80" height="4.80" fill="#000000"/>
<rect x="143.60" y="363.50" width="4.80" height="4.80" fill="#000000"/>
<rect x="151.00" y="365.20" width="4.80" height="4.80" fill="#000000"/>
<rect x="158.40" y="367.40" width="4.80" height="4.80" fill="#000000"/>
<rect x="165.60" y="370.20" width="4.80" height="4.80" fill="#000000"/>
<rect x="173.20" y="373.10" width="4.80" height="4.80" fill="#000000"/>
<rect x="180.90" y="376.20" width="4.80" height="4.80" fill="#000000"/>
<rect x="188.30" y="379.50" width="4.80" height="4.80" fill="#000000"/>
<rect x="195.60" y="382.40" width="4.80" height="4.80" fill="#000000"/>
<rect x="203.30" y="385.60" width="4.80" height="4.80" fill="#000000"/>
<rect x="210.70" y="388.40" width="4.80" height="4.80" fill="#000000"/>
<rect x="218.20" y="391.30" width="4.80" height="4.80" fill="#000000"/>
<rect x="225.80" y="393.80" width="4.80" height="4.80" fill="#000000"/>
<rect x="233.30" y="396.00" width="4.80" height="4.80" fill="#000000"/>
<rect x="240.90" y="398.00" width="4.80" height="4.80" fill="#000000"/>
<rect x="248.40" y="399.80" width="4.80" height="4.80" fill="#000000"/>
<rect x="256.00" y="401.50" width="4.80" height="4.80" fill="#000000"/>
<rect x="263.50" y="403.00" width="4.80" height="4.80" fill="#000000"/>
<rect x="270.90" y="404.40" width="4.80" height="4.80" fill="#000000"/>
<rect x="278.40" y="405.80" width="4.80" height="4.80" fill="#000000"/>
<rect x="285.90" y="407.10" width="4.80" height="4.80" fill="#000000"/>
<rect x="293.40" y="408.30" width="4.80" height="4.80" fill="#000000"/>
<rect x="300.90" y="409.40" width="4.80" height="4.80" fill="#000000"/>
<rect x="308.40" y="410.40" width="4.80" height="4.80" fill="#000000"/>
<rect x="315.90" y="411.30" width="4.80" height="4.80" fill="#000000"/>
<rect x="323.40" y="412.10" width="4.80" height="4.80" fill="#000000"/>
<rect x="330.90" y="412.90" width="4.80" height="4.80" fill="#000000"/>
<rect x="338.40" y="413.60" width="4.80" height="4.80" fill="#000000"/>
<rect x="345.90" y="414.30" width="4.80" height="4.80" fill="#000000"/>
<path d="M56.40 389.70 L63.50 388.90 L70.90 387.30 L78.50 386.20 L85.80 384.90 L93.40 382.50 L100.90 378.50 L108.40 372.80 L115.50 359.60 L119.60 347.10 L123.30 341.00 L127.00 340.20 L130.60 345.50 L134.50 351.00 L138.40 355.50 L142.30 358.20 L146.10 360.00 L153.40 362.30 L160.80 364.00 L168.00 365.80 L175.60 368.20 L183.30 371.30 L190.70 375.00 L198.00 378.60 L205.70 382.50 L213.10 386.00 L220.60 389.80 L228.20 393.00 L235.70 395.50 L243.30 397.90 L250.80 399.90 L258.40 401.60 L265.90 403.30 L273.30 404.90 L280.80 406.40 L288.30 407.80 L295.80 409.10 L303.30 410.30 L310.80 411.40 L318.30 412.40 L325.80 413.30 L333.30 414.20 L340.80 415.00 L348.30 415.70" fill="none" stroke="#ff0000" stroke-width="0.65"/>
<circle cx="63.50" cy="388.90" r="2.75" fill="#ff0000"/>
<circle cx="70.90" cy="387.30" r="2.75" fill="#ff0000"/>
<circle cx="78.50" cy="386.20" r="2.75" fill="#ff0000"/>
<circle cx="85.80" cy="384.90" r="2.75" fill="#ff0000"/>
<circle cx="93.40" cy="382.50" r="2.75" fill="#ff0000"/>
<circle cx="100.90" cy="378.50" r="2.75" fill="#ff0000"/>
<circle cx="108.40" cy="372.80" r="2.75" fill="#ff0000"/>
<circle cx="115.50" cy="359.60" r="2.75" fill="#ff0000"/>
<circle cx="119.60" cy="347.10" r="2.75" fill="#ff0000"/>
<circle cx="123.30" cy="341.00" r="2.75" fill="#ff0000"/>
<circle cx="127.00" cy="340.20" r="2.75" fill="#ff0000"/>
<circle cx="130.60" cy="345.50" r="2.75" fill="#ff0000"/>
<circle cx="134.50" cy="351.00" r="2.75" fill="#ff0000"/>
<circle cx="138.40" cy="355.50" r="2.75" fill="#ff0000"/>
<circle cx="142.30" cy="358.20" r="2.75" fill="#ff0000"/>
<circle cx="146.10" cy="360.00" r="2.75" fill="#ff0000"/>
<circle cx="153.40" cy="362.30" r="2.75" fill="#ff0000"/>
<circle cx="160.80" cy="364.00" r="2.75" fill="#ff0000"/>
<circle cx="168.00" cy="365.80" r="2.75" fill="#ff0000"/>
<circle cx="175.60" cy="368.20" r="2.75" fill="#ff0000"/>
<circle cx="183.30" cy="371.30" r="2.75" fill="#ff0000"/>
<circle cx="190.70" cy="375.00" r="2.75" fill="#ff0000"/>
<circle cx="198.00" cy="378.60" r="2.75" fill="#ff0000"/>
<circle cx="205.70" cy="382.50" r="2.75" fill="#ff0000"/>
<circle cx="213.10" cy="386.00" r="2.75" fill="#ff0000"/>
<circle cx="220.60" cy="389.80" r="2.75" fill="#ff0000"/>
<circle cx="228.20" cy="393.00" r="2.75" fill="#ff0000"/>
<circle cx="235.70" cy="395.50" r="2.75" fill="#ff0000"/>
<circle cx="243.30" cy="397.90" r="2.75" fill="#ff0000"/>
<circle cx="250.80" cy="399.90" r="2.75" fill="#ff0000"/>
<circle cx="258.40" cy="401.60" r="2.75" fill="#ff0000"/>
<circle cx="265.90" cy="403.30" r="2.75" fill="#ff0000"/>
<circle cx="273.30" cy="404.90" r="2.75" fill="#ff0000"/>
<circle cx="280.80" cy="406.40" r="2.75" fill="#ff0000"/>
<circle cx="288.30" cy="407.80" r="2.75" fill="#ff0000"/>
<circle cx="295.80" cy="409.10" r="2.75" fill="#ff0000"/>
<circle cx="303.30" cy="410.30" r="2.75" fill="#ff0000"/>
<circle cx="310.80" cy="411.40" r="2.75" fill="#ff0000"/>
<circle cx="318.30" cy="412.40" r="2.75" fill="#ff0000"/>
<circle cx="325.80" cy="413.30" r="2.75" fill="#ff0000"/>
<circle cx="333.30" cy="414.20" r="2.75" fill="#ff0000"/>
<circle cx="340.80" cy="415.00" r="2.75" fill="#ff0000"/>
<circle cx="348.30" cy="415.70" r="2.75" fill="#ff0000"/>
<path d="M101.09 384.40 L108.57 382.80 L116.06 380.60 L123.54 377.40 L131.02 372.80 L134.76 366.80 L138.50 357.00 L142.24 341.30 L145.98 320.20 L149.73 312.30 L153.47 325.00 L157.21 341.80 L160.95 350.40 L164.69 356.00 L168.43 359.50 L172.17 361.50 L175.91 363.30 L183.39 366.50 L190.88 370.50 L198.36 375.50 L208.46 381.40 L223.80 388.00 L243.25 395.30 L261.96 400.40 L280.66 405.30 L299.37 408.60 L318.07 411.20 L336.78 413.30 L355.48 416.20" fill="none" stroke="#0000ff" stroke-width="0.65"/>
<polygon points="101.09,380.70 97.76,386.69 104.42,386.69" fill="#0000ff"/>
<polygon points="108.57,379.10 105.24,385.09 111.90,385.09" fill="#0000ff"/>
<polygon points="116.06,376.90 112.73,382.89 119.39,382.89" fill="#0000ff"/>
<polygon points="123.54,373.70 120.21,379.69 126.87,379.69" fill="#0000ff"/>
<polygon points="131.02,369.10 127.69,375.09 134.35,375.09" fill="#0000ff"/>
<polygon points="134.76,363.10 131.43,369.09 138.09,369.09" fill="#0000ff"/>
<polygon points="138.50,353.30 135.17,359.29 141.83,359.29" fill="#0000ff"/>
<polygon points="142.24,337.60 138.91,343.59 145.57,343.59" fill="#0000ff"/>
<polygon points="145.98,316.50 142.65,322.49 149.31,322.49" fill="#0000ff"/>
<polygon points="149.73,308.60 146.40,314.59 153.06,314.59" fill="#0000ff"/>
<polygon points="153.47,321.30 150.14,327.29 156.80,327.29" fill="#0000ff"/>
<polygon points="157.21,338.10 153.88,344.09 160.54,344.09" fill="#0000ff"/>
<polygon points="160.95,346.70 157.62,352.69 164.28,352.69" fill="#0000ff"/>
<polygon points="164.69,352.30 161.36,358.29 168.02,358.29" fill="#0000ff"/>
<polygon points="168.43,355.80 165.10,361.79 171.76,361.79" fill="#0000ff"/>
<polygon points="172.17,357.80 168.84,363.79 175.50,363.79" fill="#0000ff"/>
<polygon points="175.91,359.60 172.58,365.59 179.24,365.59" fill="#0000ff"/>
<polygon points="183.39,362.80 180.06,368.79 186.72,368.79" fill="#0000ff"/>
<polygon points="190.88,366.80 187.55,372.79 194.21,372.79" fill="#0000ff"/>
<polygon points="198.36,371.80 195.03,377.79 201.69,377.79" fill="#0000ff"/>
<polygon points="208.46,377.70 205.13,383.69 211.79,383.69" fill="#0000ff"/>
<polygon points="223.80,384.30 220.47,390.29 227.13,390.29" fill="#0000ff"/>
<polygon points="243.25,391.60 239.92,397.59 246.58,397.59" fill="#0000ff"/>
<polygon points="261.96,396.70 258.63,402.69 265.29,402.69" fill="#0000ff"/>
<polygon points="280.66,401.60 277.33,407.59 283.99,407.59" fill="#0000ff"/>
<polygon points="299.37,404.90 296.04,410.89 302.69,410.89" fill="#0000ff"/>
<polygon points="318.07,407.50 314.74,413.49 321.40,413.49" fill="#0000ff"/>
<polygon points="336.78,409.60 333.45,415.59 340.11,415.59" fill="#0000ff"/>
<polygon points="355.48,412.50 352.15,418.49 358.81,418.49" fill="#0000ff"/>
<path d="M101.09 386.00 L108.57 385.00 L116.06 383.00 L123.54 380.60 L131.02 377.90 L138.50 373.80 L145.98 368.30 L149.73 361.80 L153.47 348.30 L157.21 316.20 L160.95 288.90 L164.69 307.90 L168.43 337.20 L172.17 350.30 L175.91 356.10 L179.65 360.10 L183.39 363.30 L190.88 367.30 L198.36 371.30 L205.84 376.00 L213.32 380.30 L220.80 384.50 L228.29 388.30 L235.77 391.60" fill="none" stroke="#008080" stroke-width="0.65"/>
<polygon points="101.09,389.70 97.76,383.71 104.42,383.71" fill="#008080"/>
<polygon points="108.57,388.70 105.24,382.71 111.90,382.71" fill="#008080"/>
<polygon points="116.06,386.70 112.73,380.71 119.39,380.71" fill="#008080"/>
<polygon points="123.54,384.30 120.21,378.31 126.87,378.31" fill="#008080"/>
<polygon points="131.02,381.60 127.69,375.61 134.35,375.61" fill="#008080"/>
<polygon points="138.50,377.50 135.17,371.51 141.83,371.51" fill="#008080"/>
<polygon points="145.98,372.00 142.65,366.01 149.31,366.01" fill="#008080"/>
<polygon points="149.73,365.50 146.40,359.51 153.06,359.51" fill="#008080"/>
<polygon points="153.47,352.00 150.14,346.01 156.80,346.01" fill="#008080"/>
<polygon points="157.21,319.90 153.88,313.91 160.54,313.91" fill="#008080"/>
<polygon points="160.95,292.60 157.62,286.61 164.28,286.61" fill="#008080"/>
<polygon points="164.69,311.60 161.36,305.61 168.02,305.61" fill="#008080"/>
<polygon points="168.43,340.90 165.10,334.91 171.76,334.91" fill="#008080"/>
<polygon points="172.17,354.00 168.84,348.01 175.50,348.01" fill="#008080"/>
<polygon points="175.91,359.80 172.58,353.81 179.24,353.81" fill="#008080"/>
<polygon points="179.65,363.80 176.32,357.81 182.98,357.81" fill="#008080"/>
<polygon points="183.39,367.00 180.06,361.01 186.72,361.01" fill="#008080"/>
<polygon points="190.88,371.00 187.55,365.01 194.21,365.01" fill="#008080"/>
<polygon points="198.36,375.00 195.03,369.01 201.69,369.01" fill="#008080"/>
<polygon points="205.84,379.70 202.51,373.71 209.17,373.71" fill="#008080"/>
<polygon points="213.32,384.00 209.99,378.01 216.65,378.01" fill="#008080"/>
<polygon points="220.80,388.20 217.47,382.21 224.13,382.21" fill="#008080"/>
<polygon points="228.29,392.00 224.96,386.01 231.62,386.01" fill="#008080"/>
<polygon points="235.77,395.30 232.44,389.31 239.10,389.31" fill="#008080"/>
<path d="M101.09 387.30 L108.57 386.30 L116.06 384.50 L123.54 382.60 L131.02 379.80 L138.50 376.80 L145.98 371.90 L149.73 369.50 L153.47 366.10 L157.21 361.00 L160.95 348.50 L164.69 313.00 L168.43 266.30 L172.17 300.50 L175.91 328.50 L179.65 347.20 L183.39 357.20 L187.14 361.40 L190.88 364.30 L198.36 368.60 L205.84 373.80 L213.32 378.80 L220.80 383.50 L228.29 387.60 L235.77 391.00" fill="none" stroke="#ff00ff" stroke-width="0.65"/>
<polygon points="97.39,387.30 103.39,383.97 103.39,390.63" fill="#ff00ff"/>
<polygon points="104.87,386.30 110.87,382.97 110.87,389.63" fill="#ff00ff"/>
<polygon points="112.36,384.50 118.35,381.17 118.35,387.83" fill="#ff00ff"/>
<polygon points="119.84,382.60 125.83,379.27 125.83,385.93" fill="#ff00ff"/>
<polygon points="127.32,379.80 133.31,376.47 133.31,383.13" fill="#ff00ff"/>
<polygon points="134.80,376.80 140.80,373.47 140.80,380.13" fill="#ff00ff"/>
<polygon points="142.28,371.90 148.28,368.57 148.28,375.23" fill="#ff00ff"/>
<polygon points="146.03,369.50 152.02,366.17 152.02,372.83" fill="#ff00ff"/>
<polygon points="149.77,366.10 155.76,362.77 155.76,369.43" fill="#ff00ff"/>
<polygon points="153.51,361.00 159.50,357.67 159.50,364.33" fill="#ff00ff"/>
<polygon points="157.25,348.50 163.24,345.17 163.24,351.83" fill="#ff00ff"/>
<polygon points="160.99,313.00 166.98,309.67 166.98,316.33" fill="#ff00ff"/>
<polygon points="164.73,266.30 170.72,262.97 170.72,269.63" fill="#ff00ff"/>
<polygon points="168.47,300.50 174.47,297.17 174.47,303.83" fill="#ff00ff"/>
<polygon points="172.21,328.50 178.21,325.17 178.21,331.83" fill="#ff00ff"/>
<polygon points="175.95,347.20 181.95,343.87 181.95,350.53" fill="#ff00ff"/>
<polygon points="179.69,357.20 185.69,353.87 185.69,360.53" fill="#ff00ff"/>
<polygon points="183.44,361.40 189.43,358.07 189.43,364.73" fill="#ff00ff"/>
<polygon points="187.18,364.30 193.17,360.97 193.17,367.63" fill="#ff00ff"/>
<polygon points="194.66,368.60 200.65,365.27 200.65,371.93" fill="#ff00ff"/>
<polygon points="202.14,373.80 208.13,370.47 208.13,377.13" fill="#ff00ff"/>
<polygon points="209.62,378.80 215.62,375.47 215.62,382.13" fill="#ff00ff"/>
<polygon points="217.10,383.50 223.10,380.17 223.10,386.83" fill="#ff00ff"/>
<polygon points="224.59,387.60 230.58,384.27 230.58,390.93" fill="#ff00ff"/>
<polygon points="232.07,391.00 238.06,387.67 238.06,394.33" fill="#ff00ff"/>
<path d="M101.09 386.70 L108.57 385.70 L116.06 383.80 L123.54 381.90 L131.02 379.30 L138.50 376.60 L145.98 373.00 L153.47 368.80 L157.21 366.20 L160.95 362.40 L164.69 354.50 L168.43 324.00 L172.17 247.70 L176.66 281.70 L179.65 329.80 L183.39 347.30 L187.14 358.80 L190.88 362.50 L194.62 365.70 L198.36 369.00 L205.84 373.00 L213.32 377.60 L220.80 382.80 L228.29 387.00 L235.77 390.30" fill="none" stroke="#808000" stroke-width="0.65"/>
<polygon points="104.79,386.70 98.80,383.37 98.80,390.03" fill="#808000"/>
<polygon points="112.27,385.70 106.28,382.37 106.28,389.03" fill="#808000"/>
<polygon points="119.76,383.80 113.76,380.47 113.76,387.13" fill="#808000"/>
<polygon points="127.24,381.90 121.24,378.57 121.24,385.23" fill="#808000"/>
<polygon points="134.72,379.30 128.73,375.97 128.73,382.63" fill="#808000"/>
<polygon points="142.20,376.60 136.21,373.27 136.21,379.93" fill="#808000"/>
<polygon points="149.68,373.00 143.69,369.67 143.69,376.33" fill="#808000"/>
<polygon points="157.17,368.80 151.17,365.47 151.17,372.13" fill="#808000"/>
<polygon points="160.91,366.20 154.91,362.87 154.91,369.53" fill="#808000"/>
<polygon points="164.65,362.40 158.65,359.07 158.65,365.73" fill="#808000"/>
<polygon points="168.39,354.50 162.40,351.17 162.40,357.83" fill="#808000"/>
<polygon points="172.13,324.00 166.14,320.67 166.14,327.33" fill="#808000"/>
<polygon points="175.87,247.70 169.88,244.37 169.88,251.03" fill="#808000"/>
<polygon points="180.36,281.70 174.37,278.37 174.37,285.03" fill="#808000"/>
<polygon points="183.35,329.80 177.36,326.47 177.36,333.13" fill="#808000"/>
<polygon points="187.09,347.30 181.10,343.97 181.10,350.63" fill="#808000"/>
<polygon points="190.84,358.80 184.84,355.47 184.84,362.13" fill="#808000"/>
<polygon points="194.58,362.50 188.58,359.17 188.58,365.83" fill="#808000"/>
<polygon points="198.32,365.70 192.32,362.37 192.32,369.03" fill="#808000"/>
<polygon points="202.06,369.00 196.06,365.67 196.06,372.33" fill="#808000"/>
<polygon points="209.54,373.00 203.55,369.67 203.55,376.33" fill="#808000"/>
<polygon points="217.02,377.60 211.03,374.27 211.03,380.93" fill="#808000"/>
<polygon points="224.50,382.80 218.51,379.47 218.51,386.13" fill="#808000"/>
<polygon points="231.99,387.00 225.99,383.67 225.99,390.33" fill="#808000"/>
<polygon points="239.47,390.30 233.47,386.97 233.47,393.63" fill="#808000"/>
</g>
<g style="will-change:transform">
<text x="69.21" y="216.30" font-family="Liberation Sans, sans-serif" font-size="12" text-anchor="middle" fill="#000" >3.0</text>
<text x="134.28" y="216.30" font-family="Liberation Sans, sans-serif" font-size="12" text-anchor="middle" fill="#000" >3.5</text>
<text x="199.34" y="216.30" font-family="Liberation Sans, sans-serif" font-size="12" text-anchor="middle" fill="#000" >4.0</text>
<text x="264.41" y="216.30" font-family="Liberation Sans, sans-serif" font-size="12" text-anchor="middle" fill="#000" >4.5</text>
<text x="329.47" y="216.30" font-family="Liberation Sans, sans-serif" font-size="12" text-anchor="middle" fill="#000" >5.0</text>
<text x="50.60" y="204.80" font-family="Liberation Sans, sans-serif" font-size="12" text-anchor="end" fill="#000" >0.8</text>
<text x="50.60" y="143.19" font-family="Liberation Sans, sans-serif" font-size="12" text-anchor="end" fill="#000" >0.9</text>
<text x="50.60" y="81.58" font-family="Liberation Sans, sans-serif" font-size="12" text-anchor="end" fill="#000" >1.0</text>
<text x="50.60" y="19.97" font-family="Liberation Sans, sans-serif" font-size="12" text-anchor="end" fill="#000" >1.1</text>
<text x="56.20" y="444.60" font-family="Liberation Sans, sans-serif" font-size="12" text-anchor="middle" fill="#000" >1.0</text>
<text x="131.02" y="444.60" font-family="Liberation Sans, sans-serif" font-size="12" text-anchor="middle" fill="#000" >1.2</text>
<text x="205.84" y="444.60" font-family="Liberation Sans, sans-serif" font-size="12" text-anchor="middle" fill="#000" >1.4</text>
<text x="280.66" y="444.60" font-family="Liberation Sans, sans-serif" font-size="12" text-anchor="middle" fill="#000" >1.6</text>
<text x="355.48" y="444.60" font-family="Liberation Sans, sans-serif" font-size="12" text-anchor="middle" fill="#000" >1.8</text>
<text x="50.60" y="433.70" font-family="Liberation Sans, sans-serif" font-size="12" text-anchor="end" fill="#000" >0</text>
<text x="50.60" y="391.20" font-family="Liberation Sans, sans-serif" font-size="12" text-anchor="end" fill="#000" >1</text>
<text x="50.60" y="348.70" font-family="Liberation Sans, sans-serif" font-size="12" text-anchor="end" fill="#000" >2</text>
<text x="50.60" y="306.20" font-family="Liberation Sans, sans-serif" font-size="12" text-anchor="end" fill="#000" >3</text>
<text x="50.60" y="263.70" font-family="Liberation Sans, sans-serif" font-size="12" text-anchor="end" fill="#000" >4</text>
<text x="74.10" y="27.30" font-family="Liberation Sans, sans-serif" font-size="15" text-anchor="start" fill="#000" textLength="17.8" lengthAdjust="spacingAndGlyphs">(a)</text>
<text x="74.10" y="258.90" font-family="Liberation Sans, sans-serif" font-size="15" text-anchor="start" fill="#000" textLength="17.8" lengthAdjust="spacingAndGlyphs">(b)</text>
<text x="215.50" y="222.20" font-family="Liberation Sans, sans-serif" font-size="15" text-anchor="start" fill="#000" >ln(x)</text>
<text x="230.60" y="449.70" font-family="Liberation Sans, sans-serif" font-size="15" text-anchor="start" fill="#000" >J</text>
<text x="237.80" y="455.70" font-family="Liberation Sans, sans-serif" font-size="9" text-anchor="start" fill="#000" >z</text>
<text transform="translate(26.6,113.9) rotate(-90)" font-family="Liberation Sans, sans-serif" font-size="16" fill="#000">S</text>
<g transform="translate(30.2,357.6) rotate(-90)" font-family="Liberation Sans, sans-serif" fill="#000"><text x="0" y="0" font-size="15">-dE</text><text x="23.4" y="-10.5" font-size="9">2</text><text x="23.4" y="5.6" font-size="9">0</text><text x="28.4" y="0" font-size="15">/dJ</text><text x="48.6" y="-10.5" font-size="9">2</text><text x="48.6" y="4.6" font-size="9">z</text></g>
</g>
<g style="will-change:transform">
<line x1="199.7" y1="122.4" x2="229.2" y2="122.4" stroke="#008080" stroke-width="0.8"/>
<polygon points="214.50,126.10 211.17,120.11 217.83,120.11" fill="#008080"/>
<text x="233.00" y="126.60" font-family="Liberation Sans, sans-serif" font-size="13" text-anchor="start" fill="#000" >N=192</text>
<text x="283.40" y="126.60" font-family="Liberation Sans, sans-serif" font-size="13" text-anchor="start" fill="#000" >(c=0.821)</text>
<line x1="199.7" y1="138.4" x2="229.2" y2="138.4" stroke="#0000ff" stroke-width="0.8"/>
<polygon points="214.50,134.70 211.17,140.69 217.83,140.69" fill="#0000ff"/>
<text x="233.00" y="142.60" font-family="Liberation Sans, sans-serif" font-size="13" text-anchor="start" fill="#000" >N=288</text>
<text x="283.40" y="142.60" font-family="Liberation Sans, sans-serif" font-size="13" text-anchor="start" fill="#000" >(c=0.818)</text>
<line x1="199.7" y1="154.4" x2="229.2" y2="154.4" stroke="#ff0000" stroke-width="0.8"/>
<circle cx="214.50" cy="154.40" r="2.75" fill="#ff0000"/>
<text x="233.00" y="158.60" font-family="Liberation Sans, sans-serif" font-size="13" text-anchor="start" fill="#000" >N=432</text>
<text x="283.40" y="158.60" font-family="Liberation Sans, sans-serif" font-size="13" text-anchor="start" fill="#000" >(c=0.815)</text>
<line x1="199.7" y1="170.4" x2="229.2" y2="170.4" stroke="#000000" stroke-width="0.8"/>
<rect x="212.10" y="168.00" width="4.80" height="4.80" fill="#000000"/>
<text x="233.00" y="174.60" font-family="Liberation Sans, sans-serif" font-size="13" text-anchor="start" fill="#000" >N=1024</text>
<text x="283.40" y="174.60" font-family="Liberation Sans, sans-serif" font-size="13" text-anchor="start" fill="#000" >(c=0.807)</text>
<line x1="272.2" y1="256.4" x2="301.6" y2="256.4" stroke="#000000" stroke-width="0.8"/>
<rect x="284.80" y="254.00" width="4.80" height="4.80" fill="#000000"/>
<text x="305.60" y="260.60" font-family="Liberation Sans, sans-serif" font-size="13" text-anchor="start" fill="#000" >N=24</text>
<line x1="272.2" y1="272.45" x2="301.6" y2="272.45" stroke="#ff0000" stroke-width="0.8"/>
<circle cx="287.20" cy="272.45" r="2.75" fill="#ff0000"/>
<text x="305.60" y="276.65" font-family="Liberation Sans, sans-serif" font-size="13" text-anchor="start" fill="#000" >N=36</text>
<line x1="272.2" y1="288.5" x2="301.6" y2="288.5" stroke="#0000ff" stroke-width="0.8"/>
<polygon points="287.20,284.80 283.87,290.79 290.53,290.79" fill="#0000ff"/>
<text x="305.60" y="292.70" font-family="Liberation Sans, sans-serif" font-size="13" text-anchor="start" fill="#000" >N=48</text>
<line x1="272.2" y1="304.54999999999995" x2="301.6" y2="304.54999999999995" stroke="#008080" stroke-width="0.8"/>
<polygon points="287.20,308.25 283.87,302.26 290.53,302.26" fill="#008080"/>
<text x="305.60" y="308.75" font-family="Liberation Sans, sans-serif" font-size="13" text-anchor="start" fill="#000" >N=60</text>
<line x1="272.2" y1="320.59999999999997" x2="301.6" y2="320.59999999999997" stroke="#ff00ff" stroke-width="0.8"/>
<polygon points="283.50,320.60 289.49,317.27 289.49,323.93" fill="#ff00ff"/>
<text x="305.60" y="324.80" font-family="Liberation Sans, sans-serif" font-size="13" text-anchor="start" fill="#000" >N=72</text>
<line x1="272.2" y1="336.65" x2="301.6" y2="336.65" stroke="#808000" stroke-width="0.8"/>
<polygon points="290.90,336.65 284.91,333.32 284.91,339.98" fill="#808000"/>
<text x="305.60" y="340.85" font-family="Liberation Sans, sans-serif" font-size="13" text-anchor="start" fill="#000" >N=84</text>
</g>
</svg>
</body></html>
